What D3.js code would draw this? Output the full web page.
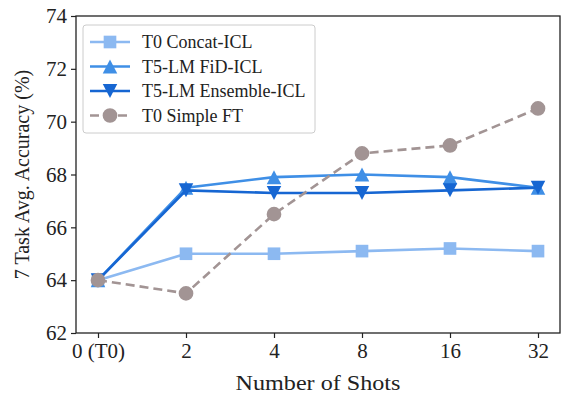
<!DOCTYPE html>
<html>
<head>
<meta charset="utf-8">
<script src="https://cdn.jsdelivr.net/npm/d3@7"></script>
<style>
  body { margin: 0; background: #fff; }
  svg { font-family: "Liberation Serif", "DejaVu Serif", serif; }
</style>
</head>
<body>
<figure id="chart" style="margin:0"></figure>
<script>
const shots = ["0 (T0)", "2", "4", "8", "16", "32"];
const concatICL = [64.0, 65.0, 65.0, 65.1, 65.2, 65.1];
const fidICL = [64.0, 67.5, 67.9, 68.0, 67.9, 67.5];
const ensembleICL = [64.0, 67.4, 67.3, 67.3, 67.4, 67.5];
const simpleFT = [64.0, 63.5, 66.5, 68.8, 69.1, 70.5];
const yTicks = [62, 64, 66, 68, 70, 72, 74];

const series = [
  { name: "T0 Concat-ICL", values: concatICL, color: "#8cb9f1", marker: "square", dash: null },
  { name: "T5-LM FiD-ICL", values: fidICL, color: "#3f8fe6", marker: "triangle", dash: null },
  { name: "T5-LM Ensemble-ICL", values: ensembleICL, color: "#1666d2", marker: "triangleDown", dash: null },
  { name: "T0 Simple FT", values: simpleFT, color: "#a29494", marker: "circle", dash: "9,5" }
];

const W = 562, H = 396;
const m = { left: 76, right: 2, top: 16, bottom: 63 };
const iw = W - m.left - m.right, ih = H - m.top - m.bottom;

const svg = d3.select("#chart").append("svg")
  .attr("width", W).attr("height", H);
const g = svg.append("g").attr("transform", `translate(${m.left},${m.top})`);

// x positions: matplotlib-style 5% margins
const x = d3.scaleLinear().domain([-0.25, shots.length - 0.75]).range([0, iw]);
const y = d3.scaleLinear().domain([62, 74]).range([ih, 0]);

// axes
const xAxis = g.append("g").attr("transform", `translate(0,${ih})`)
  .call(d3.axisBottom(x).tickValues(d3.range(shots.length)).tickFormat(i => shots[i]).tickSize(5).tickPadding(5));
const yAxis = g.append("g")
  .call(d3.axisLeft(y).tickValues(yTicks).tickSize(5).tickPadding(4));
[xAxis, yAxis].forEach(a => {
  a.select(".domain").remove();
  a.selectAll("line").attr("stroke", "#222").attr("stroke-width", 1.2);
  a.selectAll("text").attr("font-family", "Liberation Serif, serif").attr("font-size", 21).attr("fill", "#222");
});

// frame
g.append("rect").attr("width", iw).attr("height", ih)
  .attr("fill", "none").attr("stroke", "#222").attr("stroke-width", 1.3);

const line = d3.line().x((d, i) => x(i)).y(d => y(d));

// marker shapes (matplotlib-like: triangle width == height)
const tri = (w, h) => `M0,${-h / 2}L${w / 2},${h / 2}L${-w / 2},${h / 2}Z`;
const shapes = {
  square: d3.symbol().type(d3.symbolSquare).size(160)(),
  triangle: tri(14.5, 14),
  triangleDown: tri(14.5, 14),
  circle: d3.symbol().type(d3.symbolCircle).size(170)()
};

function drawMarker(sel, s) {
  const p = sel.append("path").attr("d", shapes[s.marker]).attr("fill", s.color);
  if (s.marker === "triangleDown") p.attr("transform", "rotate(180)");
  return p;
}

const plot = g.append("g");
series.forEach(s => {
  plot.append("path").datum(s.values)
    .attr("d", line).attr("fill", "none")
    .attr("stroke", s.color).attr("stroke-width", 2.6)
    .attr("stroke-dasharray", s.dash);
  s.values.forEach((v, i) => {
    const mg = plot.append("g").attr("transform", `translate(${x(i)},${y(v)})`);
    drawMarker(mg, s);
  });
});

// legend
const lg = g.append("g").attr("transform", "translate(7,9)");
lg.append("rect").attr("width", 232).attr("height", 108).attr("rx", 3)
  .attr("fill", "#fff").attr("fill-opacity", 0.85).attr("stroke", "#ccc");
series.forEach((s, i) => {
  const row = lg.append("g").attr("transform", `translate(0,${17 + i * 24.5})`);
  row.append("line").attr("x1", 7).attr("x2", 47)
    .attr("stroke", s.color).attr("stroke-width", 2.6)
    .attr("stroke-dasharray", s.dash);
  drawMarker(row.append("g").attr("transform", "translate(27,0)"), s);
  row.append("text").attr("x", 59).attr("y", 0).attr("dy", "0.35em")
    .attr("font-size", 18).attr("fill", "#222").text(s.name);
});

// axis titles
svg.append("text").attr("transform", `translate(${m.left + x(2.5)},${H - 6}) scale(1.15,1)`)
  .attr("text-anchor", "middle").attr("font-size", 21).attr("fill", "#222")
  .text("Number of Shots");
svg.append("text").attr("transform", `translate(29,${m.top + ih / 2}) rotate(-90)`)
  .attr("text-anchor", "middle").attr("font-size", 20).attr("fill", "#222")
  .text("7 Task Avg. Accuracy (%)");
</script>
</body>
</html>
